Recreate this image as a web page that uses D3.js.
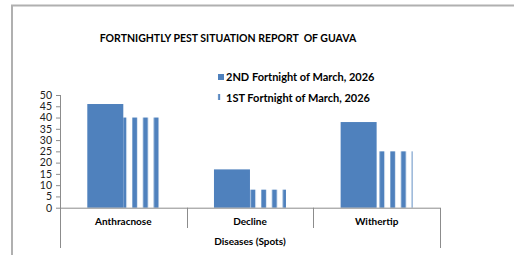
<!DOCTYPE html>
<html>
<head>
<meta charset="utf-8">
<script src="https://cdn.jsdelivr.net/npm/d3@7"></script>
<style>
  body { margin: 0; background: #fff; }
  svg { display: block; font-family: Lato, "Open Sans", sans-serif; }
</style>
</head>
<body>
<svg id="chart" width="515" height="255"></svg>
<script>
var categories = ["Anthracnose", "Decline", "Withertip"];
var seriesNames = ["2ND Fortnight of March, 2026", "1ST Fortnight of March, 2026"];
var secondFortnight = [46, 17, 38];
var firstFortnight = [40, 8, 25];
var yTicks = [0, 5, 10, 15, 20, 25, 30, 35, 40, 45, 50];

var blue = "#4f81bd", lightBlue = "#b9cde5", axisGrey = "#8c8c8c";

var svg = d3.select("#chart");

// striped fill for the 1st fortnight series (anchored to the page, like Excel's hatch)
var pat = svg.append("defs").append("pattern")
    .attr("id", "stripes")
    .attr("patternUnits", "userSpaceOnUse")
    .attr("x", 3).attr("y", 0)
    .attr("width", 10.75).attr("height", 10);
pat.append("rect").attr("x", -0.2).attr("y", 0).attr("width", 5.6).attr("height", 10).attr("fill", lightBlue);
pat.append("rect").attr("x", 0.5).attr("y", 0).attr("width", 4.4).attr("height", 10).attr("fill", blue);

// outer frame (only top and left visible)
svg.append("path")
    .attr("d", "M12,256V5.5H514")
    .attr("fill", "none")
    .attr("stroke", "#b0b0b0")
    .attr("stroke-width", 2);

svg.append("text")
    .attr("x", 228).attr("y", 41.8)
    .attr("text-anchor", "middle")
    .style("font-size", "10.5px").style("font-weight", "bold")
    .attr("xml:space", "preserve")
    .text("FORTNIGHTLY PEST SITUATION REPORT  OF GUAVA");

var x0 = d3.scaleBand().domain(categories).range([60, 440]);
var x1 = d3.scaleBand().domain(seriesNames).range([27.3, 99.3]);
var y = d3.scaleLinear().domain([0, 50]).range([207.7, 95]);

var bars = [];
categories.forEach(function(c, i) {
    bars.push({cat: c, s: seriesNames[0], v: secondFortnight[i], i: 0});
    bars.push({cat: c, s: seriesNames[1], v: firstFortnight[i], i: 1});
});

// no group transform here, so the stripe pattern lines up in page space
svg.append("g").selectAll("rect")
    .data(bars)
    .enter()
  .append("rect")
    .attr("x", function(d) { return x0(d.cat) + x1(d.s); })
    .attr("y", function(d) { return y(d.v); })
    .attr("width", x1.bandwidth())
    .attr("height", function(d) { return y(0) - y(d.v); })
    .attr("fill", function(d) { return d.i === 0 ? blue : "url(#stripes)"; });

// y axis
var yAxis = svg.append("g")
    .attr("transform", "translate(60,0)")
    .call(d3.axisLeft(y).tickValues(yTicks).tickSize(4).tickPadding(4));
yAxis.select(".domain").remove();
yAxis.selectAll("line").attr("stroke", axisGrey);
yAxis.selectAll("text").style("font-size", "10.5px").style("font-family", "Lato, sans-serif").attr("fill", "#222");

// axis lines and category table
var lines = svg.append("g").attr("stroke", axisGrey).attr("fill", "none");
lines.append("line").attr("x1", 60.5).attr("x2", 60.5).attr("y1", y(50)).attr("y2", 248);
lines.append("line").attr("x1", 60).attr("x2", 440).attr("y1", y(0) + 0.5).attr("y2", y(0) + 0.5);
lines.append("line").attr("x1", 440.5).attr("x2", 440.5).attr("y1", y(0)).attr("y2", 248);
lines.selectAll("line.sep")
    .data(categories.slice(1))
    .enter()
  .append("line")
    .attr("class", "sep")
    .attr("x1", function(d) { return Math.round(x0(d)) + 0.5; })
    .attr("x2", function(d) { return Math.round(x0(d)) + 0.5; })
    .attr("y1", y(0)).attr("y2", 228);

svg.selectAll("text.cat")
    .data(categories)
    .enter()
  .append("text")
    .attr("class", "cat")
    .attr("x", function(d) { return x0(d) + x0.bandwidth() / 2; })
    .attr("y", 225)
    .attr("text-anchor", "middle")
    .style("font-size", "10px").style("font-weight", "bold")
    .text(function(d) { return d; });

svg.append("text")
    .attr("x", 250).attr("y", 245)
    .attr("text-anchor", "middle")
    .style("font-size", "10px").style("font-weight", "bold")
    .text("Diseases (Spots)");

// legend
var legend = svg.append("g");
legend.append("rect").attr("x", 218).attr("y", 74).attr("width", 6).attr("height", 6).attr("fill", blue);
legend.append("rect").attr("x", 217.8).attr("y", 94).attr("width", 2.6).attr("height", 6).attr("fill", lightBlue);
legend.append("rect").attr("x", 218.3).attr("y", 94).attr("width", 1.6).attr("height", 6).attr("fill", blue);
legend.selectAll("text")
    .data(seriesNames)
    .enter()
  .append("text")
    .attr("x", 226)
    .attr("y", function(d, i) { return 81 + i * 20.5; })
    .style("font-size", "11px").style("font-weight", "bold")
    .text(function(d) { return d; });
</script>
</body>
</html>
